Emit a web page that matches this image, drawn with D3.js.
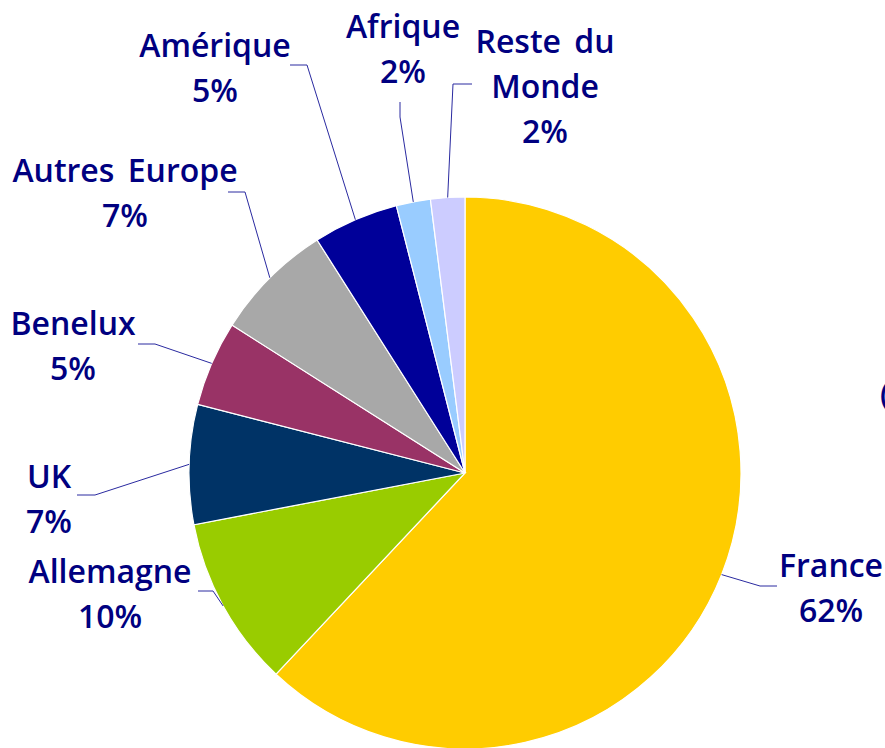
<!DOCTYPE html>
<html>
<head>
<meta charset="utf-8">
<script src="https://cdn.jsdelivr.net/npm/d3@7"></script>
<style>
  body { margin: 0; background: #fff; }
  svg { display: block; }
</style>
</head>
<body>
<div id="chart"></div>
<script>
// data (slices clockwise from 12 o'clock)
var categories = ["France", "Allemagne", "UK", "Benelux", "Autres Europe", "Amérique", "Afrique", "Reste du Monde"];
var values = [62, 10, 7, 5, 7, 5, 2, 2];
var labelLines = [["France"], ["Allemagne"], ["UK"], ["Benelux"], ["Autres Europe"], ["Amérique"], ["Afrique"], ["Reste du", "Monde"]];
var colors = ["#FFCC00", "#99CC00", "#003366", "#993366", "#A8A8A8", "#000099", "#99CCFF", "#CCCCFF"];

// label layout: text centre / first baseline, leader elbow and end
var labelPos = [
  {x: 831, y: 577, elbow: [760, 586], end: [777, 586]},
  {x: 110, y: 583, elbow: [213, 591], end: [198, 591]},
  {x: 49,  y: 488, elbow: [95, 495],  end: [77, 495]},
  {x: 73,  y: 335, elbow: [155, 344], end: [138, 344]},
  {x: 125, y: 182, elbow: [245, 192], end: [228, 192]},
  {x: 215, y: 57,  elbow: [307, 65],  end: [290, 65]},
  {x: 403, y: 38,  elbow: [400, 117], end: [400, 102]},
  {x: 545, y: 53,  elbow: [453, 84],  end: [472, 84]}
];

var width = 885, height = 748;
var cx = 465, cy = 473, radius = 276;
var lineH = 45;

var svg = d3.select("#chart").append("svg")
  .attr("width", width)
  .attr("height", height);

var data = categories.map(function(c, i) {
  return {name: c, value: values[i], lines: labelLines[i], color: colors[i], pos: labelPos[i]};
});

var pie = d3.pie().sort(null).value(function(d) { return d.value; });
var arcs = pie(data);

var arc = d3.arc().innerRadius(0).outerRadius(radius);
// zero-width arc on the rim, its centroid is the leader start
var rim = d3.arc().innerRadius(radius).outerRadius(radius);

var g = svg.append("g").attr("transform", "translate(" + cx + "," + cy + ")");

g.selectAll("path.slice")
  .data(arcs)
  .enter().append("path")
  .attr("class", "slice")
  .attr("d", arc)
  .style("fill", function(d) { return d.data.color; })
  .style("stroke", "#fff")
  .style("stroke-width", 1.2);

// leader lines
svg.selectAll("polyline.leader")
  .data(arcs)
  .enter().append("polyline")
  .attr("class", "leader")
  .attr("points", function(d) {
    var c = rim.centroid(d);
    var p = d.data.pos;
    return [[cx + c[0], cy + c[1]], p.elbow, p.end].map(function(q) { return q.join(","); }).join(" ");
  })
  .style("fill", "none")
  .style("stroke", "#2a2aa0")
  .style("stroke-width", 1);

// labels: name line(s) then percentage
var label = svg.selectAll("text.label")
  .data(arcs)
  .enter().append("text")
  .attr("class", "label")
  .attr("x", function(d) { return d.data.pos.x; })
  .attr("y", function(d) { return d.data.pos.y; })
  .attr("text-anchor", "middle")
  .style("font-family", "'Open Sans', sans-serif")
  .style("font-weight", 600)
  .style("font-size", "32px")
  .style("word-spacing", "5px")
  .style("fill", "#000080");

label.each(function(d) {
  var t = d3.select(this);
  var lines = d.data.lines.concat([d.data.value + "%"]);
  lines.forEach(function(s, i) {
    t.append("tspan")
      .attr("x", d.data.pos.x)
      .attr("dy", i === 0 ? 0 : lineH)
      .text(s);
  });
});

// cut-off character at the right edge (as in the source)
svg.append("text")
  .attr("x", 880)
  .attr("y", 405)
  .style("font-family", "'Open Sans', sans-serif")
  .style("font-weight", 600)
  .style("font-size", "31px")
  .style("fill", "#000080")
  .text("(");
</script>
</body>
</html>
